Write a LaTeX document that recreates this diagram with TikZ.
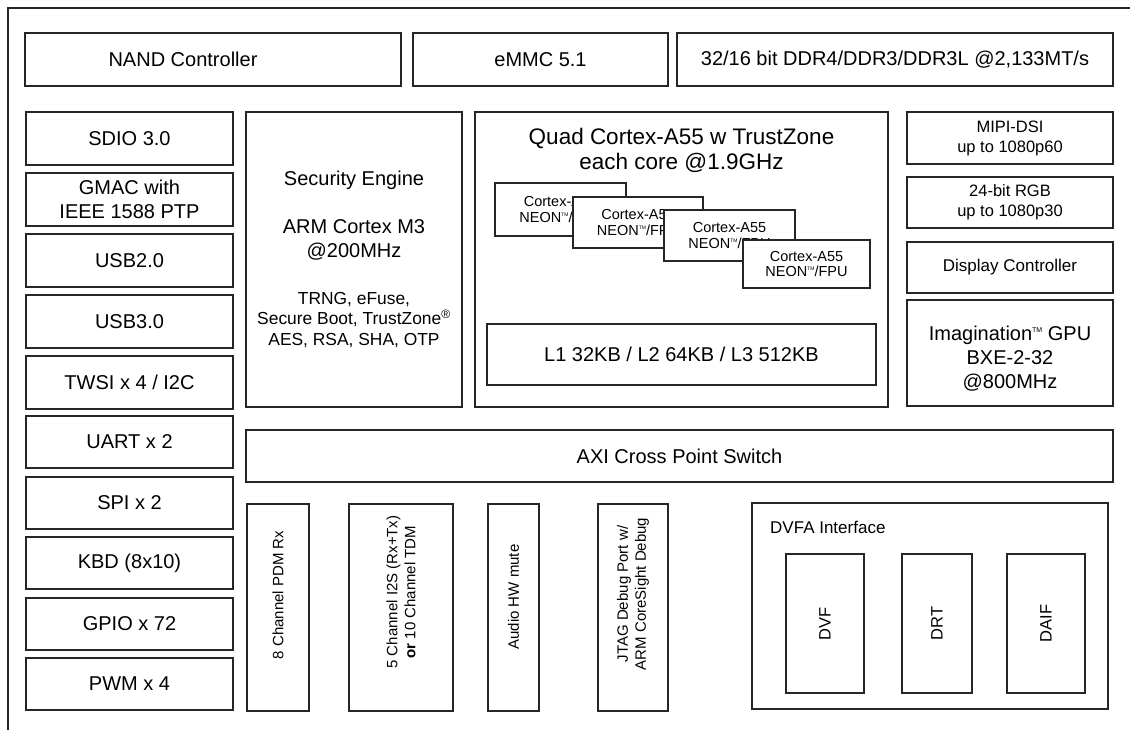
\documentclass[tikz,border=0pt]{standalone}
\usepackage{fontspec}
\setmainfont{Liberation Sans}
\tikzset{
  box/.style={draw=black!85, line width=1.3pt, fill=white, inner sep=0pt, outer sep=0pt, align=center, font=\fontsize{20}{23.5}\selectfont},
  txt/.style={inner sep=0pt, align=center, font=\fontsize{20}{24}\selectfont},
  rot/.style={inner sep=0pt, align=center, rotate=90, font=\fontsize{15}{18}\selectfont},
  core/.style={box, font=\fontsize{14.5}{15.5}\selectfont},
  frame/.style={draw=black!85, line width=1.3pt}
}
\newcommand\bx[7][]{\node[box,minimum width={(#5)-(#3)},minimum height={(#6)-(#4)},#1] (#2) at ({((#3)+(#5))/2},{((#4)+(#6))/2}) {#7};}
\newcommand\tmk[1]{\raisebox{0.75ex}{\fontsize{#1}{#1}\selectfont TM}}
\begin{document}
\begin{tikzpicture}[x=1pt,y=-1pt]
\useasboundingbox (0,0) rectangle (1130,730);
% outer frame
\coordinate (fa) at (8,730);
\coordinate (fb) at (8,8);
\coordinate (fc) at (1130,8);
\draw[frame] (fa) -- (fb) -- (fc);
% top row
\bx{nand}{25}{33}{401}{86}{}
\node[txt] (nandt) at (183,59.5) {NAND Controller};
\bx{emmc}{413}{33}{668}{86}{eMMC 5.1}
\bx{ddr}{677}{33}{1113}{86}{32/16 bit DDR4/DDR3/DDR3L @2,133MT/s}
% left column
\bx{sdio}{26}{112}{233}{165}{SDIO 3.0}
\bx{gmac}{26}{173}{233}{226}{GMAC with\\IEEE 1588 PTP}
\bx{usbb}{26}{234}{233}{287}{USB2.0}
\bx{usbc}{26}{295}{233}{348}{USB3.0}
\bx{twsi}{26}{356}{233}{409}{TWSI x 4 / I2C}
\bx{uart}{26}{416}{233}{468}{UART x 2}
\bx{spi}{26}{477}{233}{529}{SPI x 2}
\bx{kbd}{26}{537}{233}{589}{KBD (8x10)}
\bx{gpio}{26}{598}{233}{650}{GPIO x 72}
\bx{pwm}{26}{658}{233}{710}{PWM x 4}
% security engine
\bx{sec}{246}{112}{462}{407}{}
\node[txt] (sect) at (354,180) {Security Engine};
\node[txt] (arm) at (354,240) {ARM Cortex M3\\@200MHz};
\node[txt, font=\fontsize{17.4}{20.5}\selectfont] (trng) at (354,320) {TRNG, eFuse,\\Secure Boot, TrustZone\textsuperscript{®}\\AES, RSA, SHA, OTP};
% quad cortex
\bx{quad}{475}{112}{888}{407}{}
\node[txt, font=\fontsize{22.5}{25}\selectfont] (quadt) at (681.5,150) {Quad Cortex-A55 w TrustZone\\each core @1.9GHz};
\bx[core]{ca}{495}{183}{626}{236}{Cortex-A55\\NEON\tmk{5}/FPU}
\bx[core]{cb}{573}{197}{703}{248}{Cortex-A55\\NEON\tmk{5}/FPU}
\bx[core]{cc}{664}{210}{795}{261}{Cortex-A55\\NEON\tmk{5}/FPU}
\bx[core]{cd}{743}{240}{870}{288}{Cortex-A55\\NEON\tmk{5}/FPU}
\bx{cache}{487}{324}{876}{385}{L1 32KB / L2 64KB / L3 512KB}
% right column
\bx[font=\fontsize{16.5}{20}\selectfont]{mipi}{907}{112}{1113}{164}{MIPI-DSI\\up to 1080p60}
\bx[font=\fontsize{16.5}{20}\selectfont]{rgb}{907}{177}{1113}{228}{24-bit RGB\\up to 1080p30}
\bx[font=\fontsize{17}{20}\selectfont]{disp}{907}{242}{1113}{293}{Display Controller}
\bx{gpu}{907}{300}{1113}{406}{}
\node[txt] (gput) at (1010,359) {Imagination\tmk{7} GPU\\BXE-2-32\\@800MHz};
% AXI
\bx{axi}{246}{430}{1113}{482}{AXI Cross Point Switch}
% bottom row
\bx{pdm}{247}{504}{309}{711}{}
\node[rot] (pdmt) at (278,595) {8 Channel PDM Rx};
\bx{iis}{349}{504}{453}{711}{}
\node[rot] (iist) at (401,592) {5 Channel I2S (Rx+Tx)\\\textbf{or} 10 Channel TDM};
\bx{aud}{488}{504}{539}{711}{}
\node[rot] (audt) at (513.5,597) {Audio HW mute};
\bx{jtag}{598}{504}{668}{711}{}
\node[rot] (jtagt) at (633,594) {JTAG Debug Port w/\\ARM CoreSight Debug};
% DVFA
\bx{dvfa}{752}{503}{1108}{709}{}
\node[txt, anchor=west, font=\fontsize{17}{20}\selectfont] (dvfat) at (770,527) {DVFA Interface};
\bx{dvf}{786}{554}{864}{693}{}
\node[rot, font=\fontsize{16.5}{20}\selectfont] (dvft) at (825,623.5) {DVF};
\bx{drt}{902}{554}{972}{693}{}
\node[rot, font=\fontsize{16.5}{20}\selectfont] (drtt) at (937,623.5) {DRT};
\bx{daif}{1007}{554}{1085}{693}{}
\node[rot, font=\fontsize{16.5}{20}\selectfont] (daift) at (1046,623.5) {DAIF};
\end{tikzpicture}
\end{document}
